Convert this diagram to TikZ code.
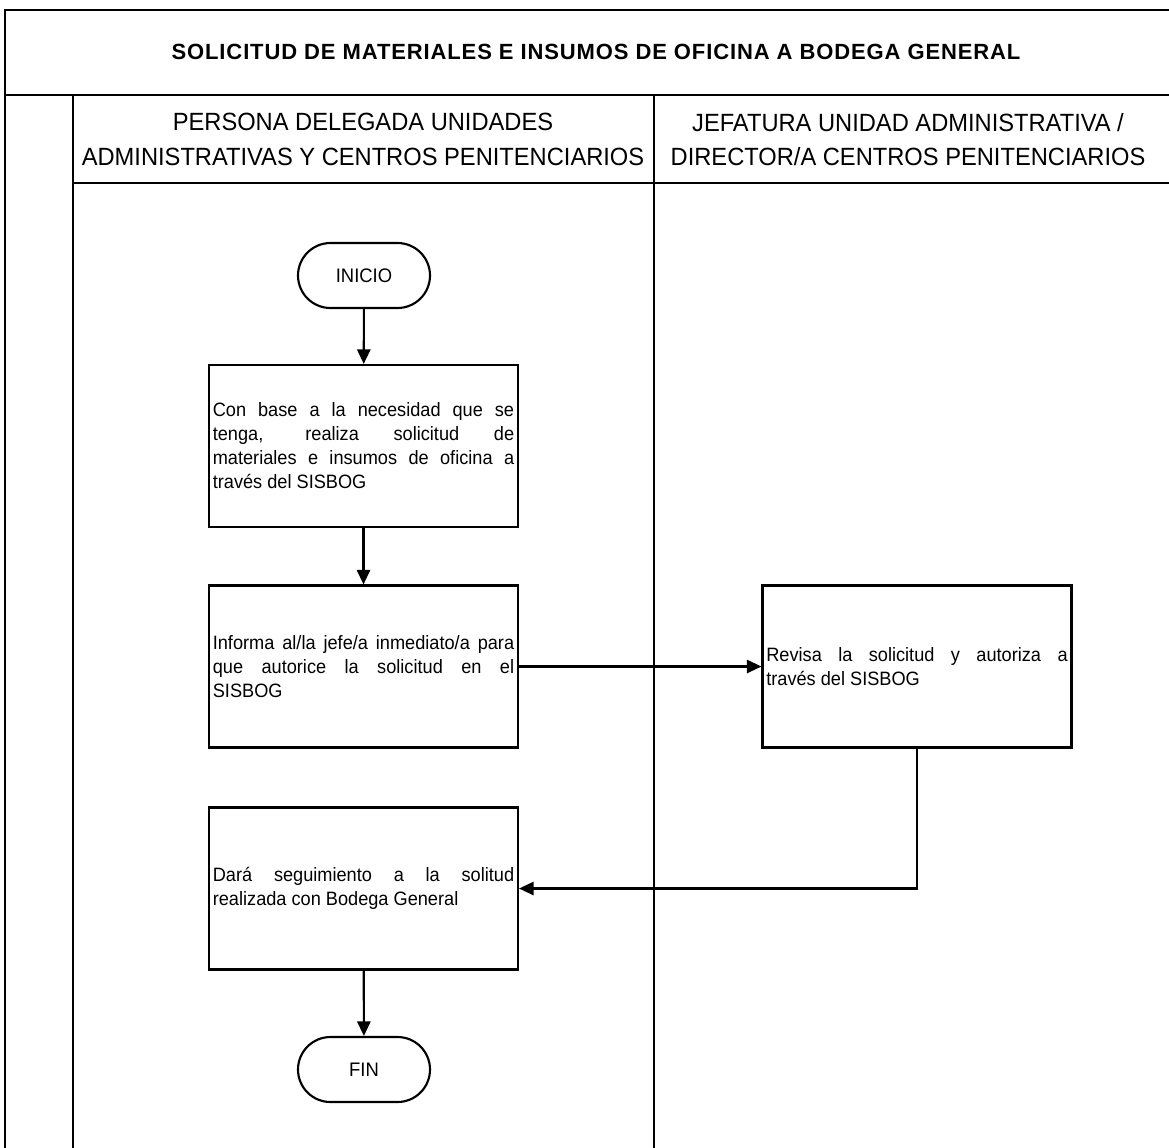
\documentclass[tikz,border=0pt]{standalone}
\usepackage{fontspec}
\setmainfont[FakeStretch=0.94]{Liberation Sans}
\newfontfamily\titlefont[LetterSpace=4]{Liberation Sans}
\newfontfamily\lanefont[FakeStretch=0.95]{Liberation Sans}
\usetikzlibrary{arrows.meta,shapes.misc}
% no hyphenation inside the step boxes, loose lines allowed
\hyphenpenalty=10000
\tolerance=10000
\hfuzz=20pt

\begin{document}
\begin{tikzpicture}[x=0.75pt,y=-0.75pt,
  frame/.style={line width=1.9pt,line cap=rect},
  lanetitle/.style={align=center,font=\lanefont\fontsize{18.7}{26}\selectfont},
  stepbox/.style={draw,line width=1.6pt,minimum width=231.75pt,minimum height=121.5pt,
    text width=226pt,inner sep=1.5pt,align=justify,
    font=\fontsize{14.5}{18}\selectfont},
  terminal/.style={draw,line width=1.6pt,rounded rectangle,minimum width=99pt,
    minimum height=48.75pt,inner sep=0pt,font=\fontsize{14.7}{18}\selectfont},
  flow/.style={line width=1.6pt,-{Triangle[length=11pt,width=10pt]}}]

\useasboundingbox (0,0) rectangle (1169,1147);

% swimlane frame
\draw[frame] (5,1150) -- (5,10) -- (1172,10);
\draw[frame] (5,95) -- (1172,95);
\draw[frame] (73,95) -- (73,1150);
\draw[frame] (654,95) -- (654,1150);
\draw[frame] (73,183) -- (1172,183);

% titles
\node[font=\titlefont\bfseries\fontsize{16.5}{20}\selectfont] (title) at (596,52)
  {SOLICITUD DE MATERIALES E INSUMOS DE OFICINA A BODEGA GENERAL};
\node[lanetitle] (laneA) at (363,139.5)
  {PERSONA DELEGADA UNIDADES\\ADMINISTRATIVAS Y CENTROS PENITENCIARIOS};
\node[lanetitle] (laneB) at (908,139.5)
  {JEFATURA UNIDAD ADMINISTRATIVA /\\DIRECTOR/A CENTROS PENITENCIARIOS};

% steps (each printed line kept together, lines justified)
\node[terminal] (inicio) at (364,275.5) {INICIO};
\node[stepbox] (s1) at (363.5,446)
  {Con~base~a~la~necesidad~que~se\linebreak tenga, realiza solicitud de\linebreak
   materiales~e~insumos~de~oficina~a\linebreak través~del~SISBOG};
\node[stepbox] (s2) at (363.5,666.5)
  {Informa~al/la~jefe/a~inmediato/a~para\linebreak que~autorice~la~solicitud~en~el\linebreak SISBOG\par\vspace{7.5pt}};
\node[stepbox] (s3) at (917,666.5)
  {Revisa~la~solicitud~y~autoriza~a\linebreak través~del~SISBOG};
\node[stepbox] (s4) at (363.5,888.5)
  {Dará~seguimiento~a~la~solitud\linebreak realizada~con~Bodega~General};
\node[terminal] (fin) at (364,1069.5) {FIN};

% connectors
\draw[flow] (inicio) -- (s1);
\draw[flow] (s1) -- (s2);
\draw[flow] (s2) -- (s3);
\draw[flow] (s3.south) |- (s4.east);
\draw[flow] (s4) -- (fin);
\end{tikzpicture}
\end{document}
